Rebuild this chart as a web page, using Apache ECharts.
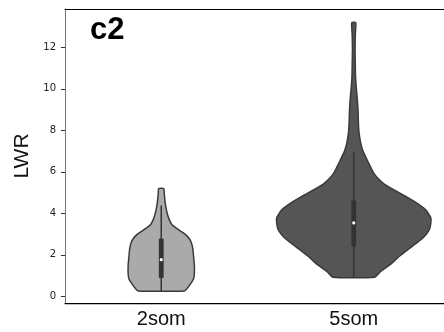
<!DOCTYPE html>
<html>
<head>
<meta charset="utf-8">
<script src="https://cdn.jsdelivr.net/npm/echarts@6/dist/echarts.min.js"></script>
<style>
  html, body { margin: 0; padding: 0; background: #fff; }
  #chart { width: 444px; height: 332px; }
</style>
</head>
<body>
<div id="chart"></div>
<script>
// Groups on the x axis
const categories = ['2som', '5som'];
// Y axis tick values
const yTicks = [0, 2, 4, 6, 8, 10, 12];

// Kernel density profile of LWR for each group:
// levels = LWR values, density = relative half-width of the violin (1 = widest violin)
const levels2som = [0.26, 0.40, 0.60, 0.85, 1.10, 1.50, 1.90, 2.30, 2.60, 2.80, 3.00, 3.15, 3.30, 3.45, 3.65, 3.90, 4.20, 4.55, 4.90, 5.20];
const density2som = [0.30, 0.34, 0.38, 0.42, 0.43, 0.43, 0.42, 0.41, 0.39, 0.36, 0.31, 0.25, 0.19, 0.14, 0.11, 0.085, 0.065, 0.05, 0.04, 0.033];

const levels5som = [0.92, 1.20, 1.58, 1.90, 2.22, 2.55, 2.86, 3.20, 3.50, 3.80, 4.15, 4.45, 4.70, 4.95, 5.12, 5.40, 5.70, 6.00, 6.30, 6.60, 7.00, 7.40, 7.90, 8.40, 9.00, 9.60, 10.10, 10.60, 11.20, 11.90, 12.60, 13.19];
const density5som = [0.27, 0.35, 0.49, 0.58, 0.69, 0.81, 0.91, 0.98, 1.00, 1.00, 0.94, 0.84, 0.73, 0.61, 0.53, 0.40, 0.31, 0.25, 0.21, 0.17, 0.12, 0.09, 0.068, 0.06, 0.055, 0.044, 0.032, 0.023, 0.02, 0.017, 0.02, 0.026];

// Inner box plot: [lower whisker, Q1, median, Q3, upper whisker]
const box2som = [0.26, 0.89, 1.77, 2.78, 4.38];
const box5som = [0.92, 2.41, 3.54, 4.62, 6.97];

const fills = ['#aaaaaa', '#555555'];

const groups = [
  { levels: levels2som, density: density2som, box: box2som },
  { levels: levels5som, density: density5som, box: box5som }
];

function renderViolin(params, api) {
  const cat = api.value(0);
  const g = groups[cat];
  const band = api.size([1, 0])[0];
  const maxHalf = band * 0.4;
  const right = [];
  const left = [];
  for (let i = 0; i < g.levels.length; i++) {
    const p = api.coord([cat, g.levels[i]]);
    right.push([p[0] + g.density[i] * maxHalf, p[1]]);
    left.push([p[0] - g.density[i] * maxHalf, p[1]]);
  }
  const outline = right.concat(left.reverse());
  const lo = api.coord([cat, g.box[0]]);
  const q1 = api.coord([cat, g.box[1]]);
  const med = api.coord([cat, g.box[2]]);
  const q3 = api.coord([cat, g.box[3]]);
  const hi = api.coord([cat, g.box[4]]);
  const boxW = 4.8;
  return {
    type: 'group',
    children: [
      {
        type: 'polygon',
        shape: { points: outline, smooth: 0.15 },
        style: { fill: fills[cat], stroke: '#3a3a3a', lineWidth: 1.5 }
      },
      {
        type: 'line',
        shape: { x1: lo[0], y1: lo[1], x2: hi[0], y2: hi[1] },
        style: { stroke: '#333333', lineWidth: 1.5 }
      },
      {
        type: 'rect',
        shape: { x: q3[0] - boxW / 2, y: q3[1], width: boxW, height: q1[1] - q3[1] },
        style: { fill: '#333333' }
      },
      {
        type: 'circle',
        shape: { cx: med[0], cy: med[1], r: 1.6 },
        style: { fill: '#ffffff' }
      }
    ]
  };
}

const chart = echarts.init(document.getElementById('chart'), null, { renderer: 'canvas' });

chart.setOption({
  animation: false,
  backgroundColor: '#ffffff',
  title: {
    text: 'c2',
    left: 85,
    top: 10,
    textStyle: { fontFamily: 'Liberation Sans', fontWeight: 'bold', fontSize: 31, color: '#000' }
  },
  grid: { left: 65, top: 9, width: 385, bottom: 29, containLabel: false, outerBoundsMode: 'none' },
  xAxis: [
    {
      type: 'category',
      data: categories,
      boundaryGap: true,
      axisLine: { onZero: false, lineStyle: { color: '#000', width: 1.25 } },
      axisTick: { alignWithLabel: true, length: 3, lineStyle: { color: '#333' } },
      axisLabel: { margin: 6, fontFamily: 'Liberation Sans', fontSize: 20, color: '#111' },
      splitLine: { show: false }
    },
    {
      type: 'category',
      data: categories,
      position: 'top',
      axisLine: { onZero: false, lineStyle: { color: '#000', width: 1 } },
      axisTick: { show: false },
      axisLabel: { show: false },
      splitLine: { show: false }
    }
  ],
  yAxis: {
    type: 'value',
    min: -0.32,
    max: 13.85,
    name: 'LWR',
    nameLocation: 'middle',
    nameGap: 23,
    nameTextStyle: { fontFamily: 'Liberation Sans', fontSize: 21, color: '#111' },
    axisLine: { show: true, onZero: false, lineStyle: { color: '#777', width: 1 } },
    axisTick: { show: true, length: 4, customValues: yTicks, lineStyle: { color: '#333' } },
    axisLabel: { margin: 9, customValues: yTicks, fontFamily: 'DejaVu Sans', fontSize: 10, color: '#222' },
    splitLine: { show: false }
  },
  series: [
    {
      type: 'custom',
      renderItem: renderViolin,
      data: [[0], [1]],
      encode: { x: 0 },
      clip: false
    }
  ]
});
</script>
</body>
</html>
